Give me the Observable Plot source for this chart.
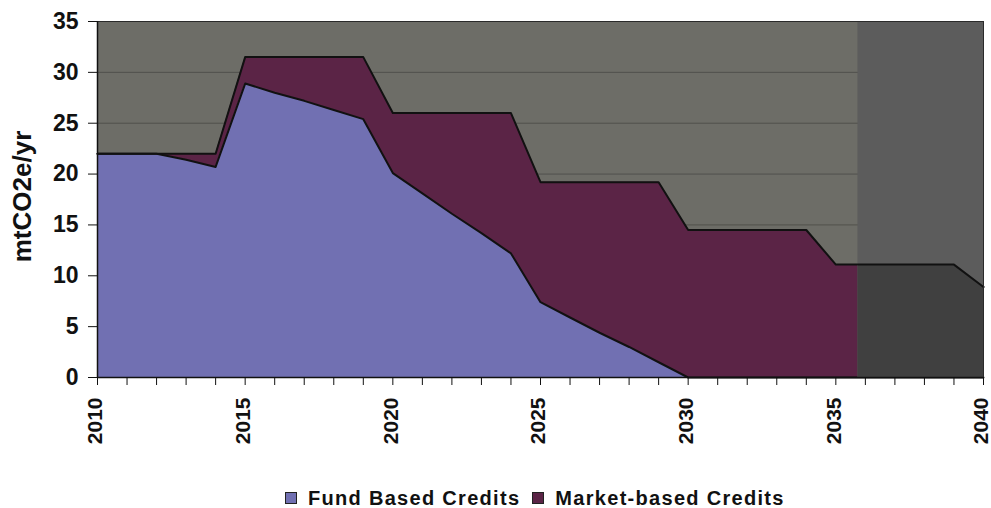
<!DOCTYPE html>
<html><head><meta charset="utf-8">
<script src="https://cdn.jsdelivr.net/npm/d3@7"></script>
<script src="https://cdn.jsdelivr.net/npm/@observablehq/plot@0.6"></script>
<style>
body{margin:0;background:#fff;font-family:"Liberation Sans",Arial,sans-serif;}
#chart{position:relative;width:991px;height:508px;overflow:hidden;}
#legend{position:absolute;left:285px;top:488px;display:flex;align-items:center;font-weight:bold;font-size:20px;letter-spacing:1.3px;color:#111;line-height:20px;white-space:nowrap;}
.sw{width:10px;height:10px;border:1px solid #222;margin-right:11px;}
.item{display:flex;align-items:center;margin-right:12px;}
</style></head><body><div id="chart"></div>
<script>
const years = [2010,2011,2012,2013,2014,2015,2016,2017,2018,2019,2020,2021,2022,2023,2024,2025,2026,2027,2028,2029,2030,2031,2032,2033,2034,2035,2036,2037,2038,2039,2040];
const fund = [22.0,22.0,22.0,21.4,20.7,28.9,28.0,27.2,26.3,25.4,20.1,18.1,16.1,14.2,12.2,7.4,5.9,4.4,3.0,1.5,0,0,0,0,0,0,0,0,0,0,0];
const market = [0,0,0,0.6,1.3,2.6,3.5,4.3,5.2,6.1,5.9,7.9,9.9,11.8,13.8,11.8,13.3,14.8,16.2,17.7,14.5,14.5,14.5,14.5,14.5,11.1,11.1,11.1,11.1,11.1,8.9];
const seriesNames = ["Fund Based Credits","Market-based Credits"];
const seriesColors = ["#7170b2","#5b2446"];
const yTicks = [0,5,10,15,20,25,30,35];
const xTickLabels = [2010,2015,2020,2025,2030,2035,2040];
const yLabel = "mtCO2e/yr";
// darkened (scanned) region at the right of the original picture, in years
const scanShadeYears = [2035.75, 2040];

const rows = [];
years.forEach((yr,i)=>rows.push({year:yr, series:seriesNames[0], value:fund[i]}));
years.forEach((yr,i)=>rows.push({year:yr, series:seriesNames[1], value:market[i]}));
const totals = years.map((yr,i)=>({year:yr, total:fund[i]+market[i]}));
const [s0,s1] = scanShadeYears;
const i0 = years.findIndex(y=>y>s0);
const tStart = totals[i0-1].total + (totals[i0].total-totals[i0-1].total)*(s0-years[i0-1])/(years[i0]-years[i0-1]);
const shadeRows = [{year:s0,total:tStart}, ...totals.filter(d=>d.year>s0)];

const font = "'Liberation Sans', Arial, sans-serif";
const chart = Plot.plot({
  width:991, height:482,
  marginLeft:97, marginRight:8, marginTop:21, marginBottom:105,
  x:{domain:[2010,2040]},
  y:{domain:[0,35]},
  color:{domain:seriesNames, range:seriesColors},
  style:{fontFamily:font, fontWeight:"bold", color:"#111", background:"transparent", overflow:"visible"},
  marks:[
    Plot.frame({fill:"#6d6d67"}),
    Plot.ruleY(yTicks.filter(d=>d>0 && d<35), {stroke:"#50504c", strokeWidth:1}),
    Plot.areaY(rows, {x:"year", y:"value", fill:"series"}),
    Plot.lineY(rows, Plot.stackY2({x:"year", y:"value", z:"series", stroke:"#111", strokeWidth:2})),
    Plot.rect([scanShadeYears], {x1:d=>d[0], x2:d=>d[1], y1:0, y2:35, fill:"#5c5c5c"}),
    Plot.areaY(shadeRows, {x:"year", y:"total", fill:"#404040"}),
    Plot.line(shadeRows, {x:"year", y:"total", stroke:"#111", strokeWidth:2}),
    Plot.frame({stroke:"#2a2a2a", strokeWidth:1}),
    Plot.ruleX([2010], {stroke:"#111", strokeWidth:1.5}),
    Plot.ruleY([0], {stroke:"#111", strokeWidth:1.5}),
    Plot.axisY({ticks:yTicks, tickSize:9, tickPadding:10, label:null, fontSize:23, fontWeight:"bold"}),
    Plot.axisX({ticks:years, tickFormat:()=>"", tickSize:8, label:null}),
    Plot.axisX({ticks:xTickLabels, tickFormat:d=>String(d), tickRotate:-90, tickSize:0, tickPadding:20, label:null, fontSize:21, fontWeight:"bold", dx:-2}),
    Plot.text([yLabel], {text:d=>d, frameAnchor:"left", textAnchor:"middle", rotate:-90, dx:-75, dy:-3, fontSize:26, fontWeight:"bold", fill:"#111"})
  ]
});
const root = document.getElementById("chart");
root.appendChild(chart);
const legend = document.createElement("div");
legend.id = "legend";
seriesNames.forEach((name,i)=>{
  const item = document.createElement("div");
  item.className = "item";
  const sw = document.createElement("span");
  sw.className = "sw";
  sw.style.background = seriesColors[i];
  const t = document.createElement("span");
  t.textContent = name;
  item.appendChild(sw); item.appendChild(t);
  legend.appendChild(item);
});
root.appendChild(legend);
</script>
</body></html>
